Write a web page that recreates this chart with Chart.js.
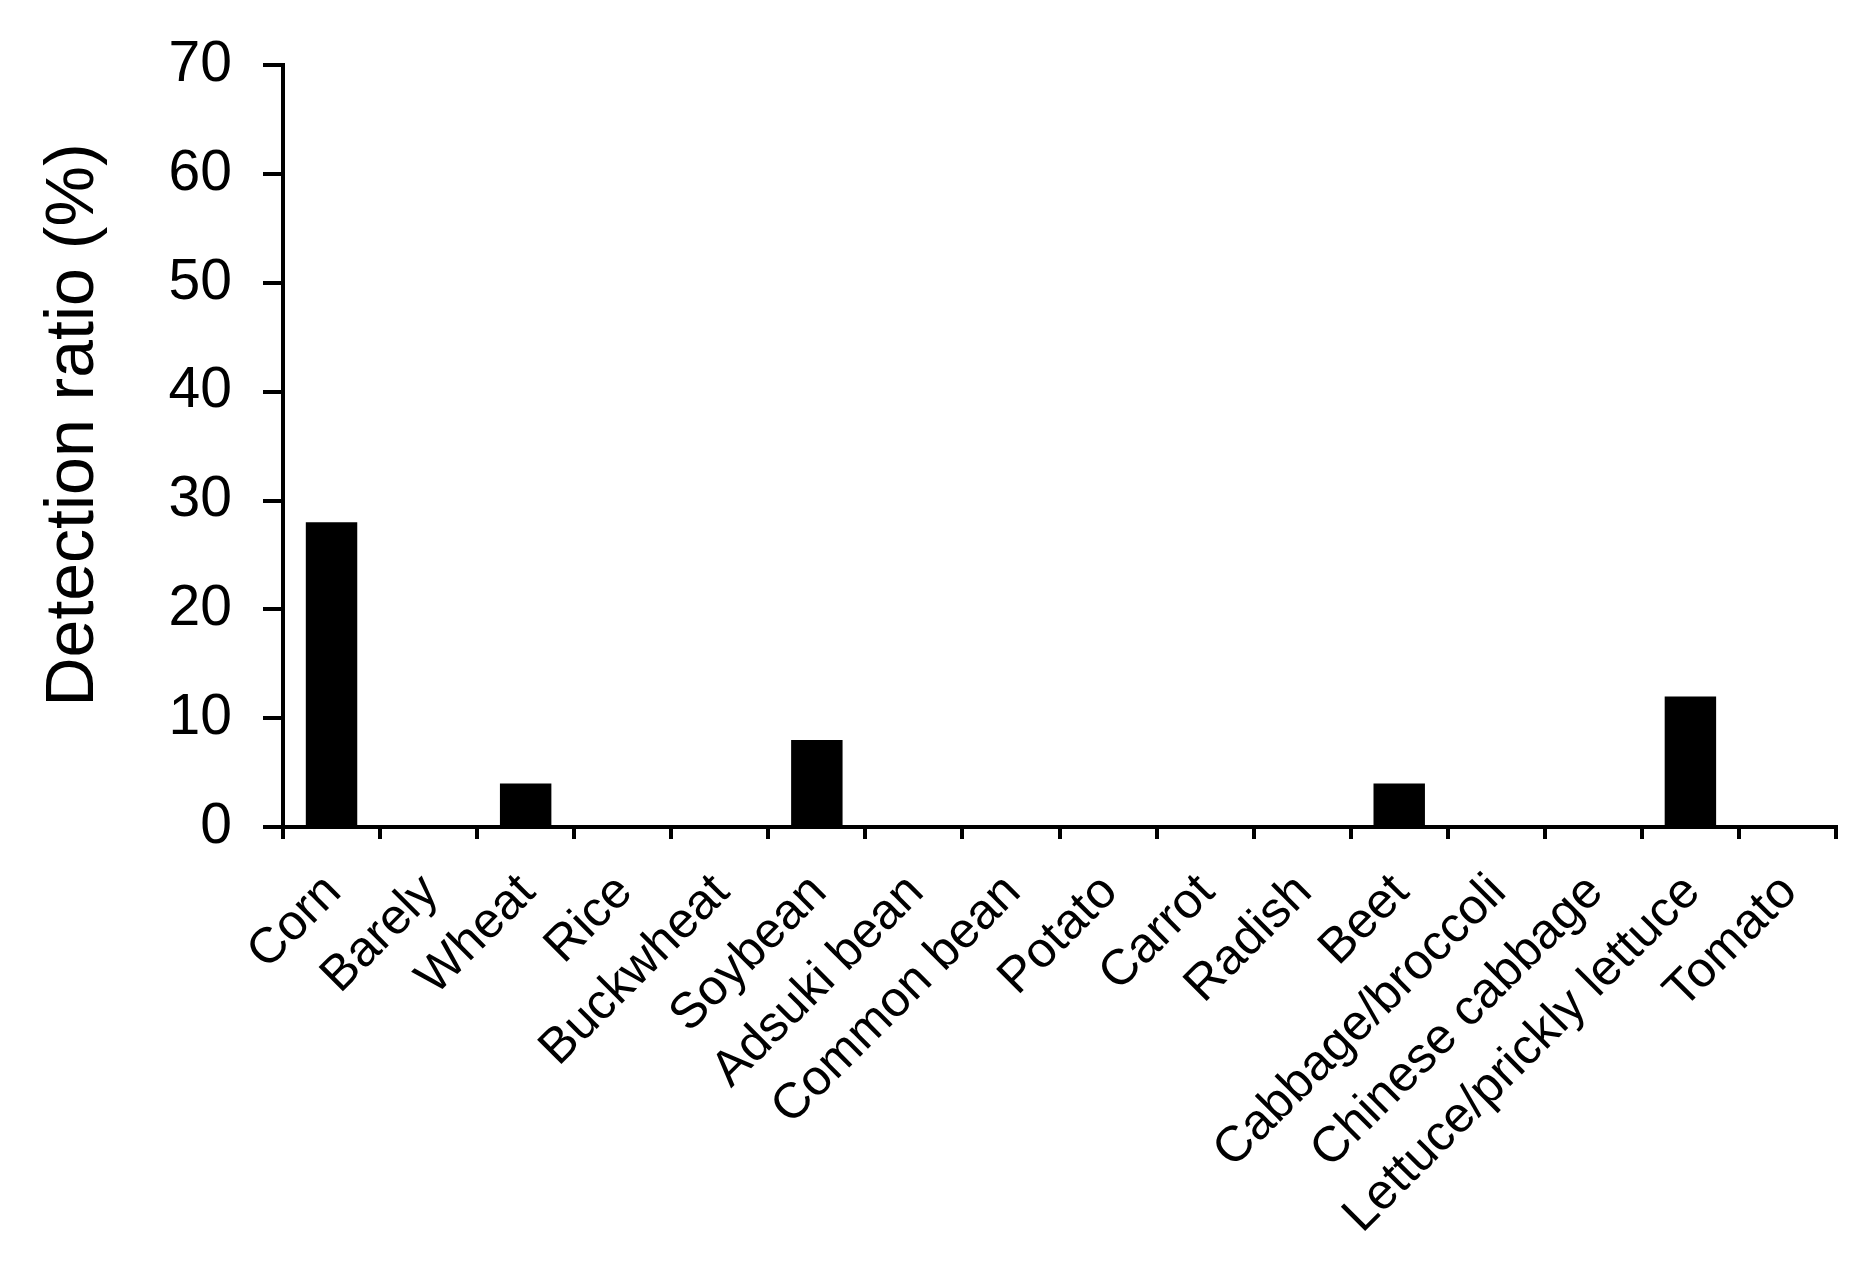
<!DOCTYPE html>
<html>
<head>
<meta charset="utf-8">
<script src="https://cdn.jsdelivr.net/npm/chart.js@4/dist/chart.umd.min.js"></script>
<style>
  html, body { margin: 0; padding: 0; background: #fff; }
  #wrap { width: 1866px; height: 1275px; }
</style>
</head>
<body>
<div id="wrap"><canvas id="myChart" width="1866" height="1275"></canvas></div>
<script>
// categories and values
var crops = ['Corn', 'Barely', 'Wheat', 'Rice', 'Buckwheat', 'Soybean', 'Adsuki bean',
  'Common bean', 'Potato', 'Carrot', 'Radish', 'Beet', 'Cabbage/broccoli',
  'Chinese cabbage', 'Lettuce/prickly lettuce', 'Tomato'];
var detectionRatio = [28, 0, 4, 0, 0, 8, 0, 0, 0, 0, 0, 4, 0, 0, 12, 0];
var yTicks = [0, 10, 20, 30, 40, 50, 60, 70];
var yTitle = 'Detection ratio (%)';

var font = 'Arial, "Liberation Sans", sans-serif';

// y title sits a bit above the middle of the axis in the figure, so draw it by hand
var yTitlePlugin = {
  id: 'yTitle',
  afterDraw: function (chart) {
    var c = chart.ctx;
    c.save();
    c.translate(93, 425);
    c.rotate(-Math.PI / 2);
    c.font = '68px ' + font;
    c.fillStyle = '#000';
    c.textAlign = 'center';
    c.textBaseline = 'alphabetic';
    c.fillText(yTitle, 0, 0);
    c.restore();
  }
};

var ctx = document.getElementById('myChart').getContext('2d');
var myChart = new Chart(ctx, {
  type: 'bar',
  data: {
    labels: crops,
    datasets: [{
      label: yTitle,
      data: detectionRatio,
      backgroundColor: '#000',
      borderWidth: 0,
      barPercentage: 0.53,
      categoryPercentage: 1
    }]
  },
  options: {
    responsive: false,
    animation: false,
    layout: { padding: { left: 0, right: 30, top: 60, bottom: 0 } },
    plugins: { legend: { display: false }, tooltip: { enabled: false } },
    scales: {
      x: {
        afterFit: function (scale) { scale.height = 448; },
        grid: { drawOnChartArea: false, offset: true, color: '#000', lineWidth: 4, tickLength: 12 },
        border: { color: '#000', width: 4 },
        ticks: {
          color: '#000', autoSkip: false, minRotation: 45, maxRotation: 45,
          font: { family: font, size: 50 }, padding: 24, labelOffset: 2
        }
      },
      y: {
        min: yTicks[0],
        max: yTicks[yTicks.length - 1],
        afterBuildTicks: function (axis) {
          axis.ticks = yTicks.map(function (v) { return { value: v }; });
        },
        afterFit: function (scale) { scale.width = 283; },
        grid: { drawOnChartArea: false, color: '#000', lineWidth: 4, tickLength: 20 },
        border: { color: '#000', width: 4 },
        ticks: { color: '#000', font: { family: font, size: 57 }, padding: 31 }
      }
    }
  },
  plugins: [yTitlePlugin]
});
</script>
</body>
</html>
